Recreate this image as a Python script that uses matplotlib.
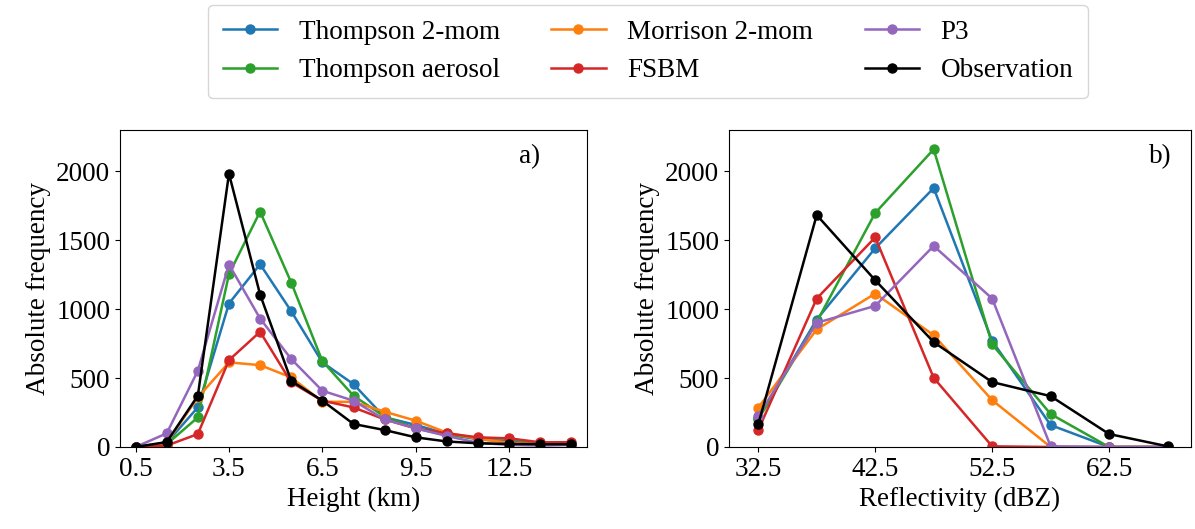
import numpy as np
import matplotlib
matplotlib.use('Agg')
import matplotlib.pyplot as plt

plt.rcParams['font.family'] = ['Liberation Serif', 'DejaVu Serif']
plt.rcParams['font.size'] = 19.5

# height bins (km) and reflectivity bins (dBZ)
height = [0.5, 1.5, 2.5, 3.5, 4.5, 5.5, 6.5, 7.5, 8.5, 9.5, 10.5, 11.5, 12.5, 13.5, 14.5]
refl = [32.5, 37.5, 42.5, 47.5, 52.5, 57.5, 62.5, 67.5]

labels = ['Thompson 2-mom', 'Thompson aerosol', 'Morrison 2-mom', 'FSBM', 'P3', 'Observation']
colors = ['tab:blue', 'tab:green', 'tab:orange', 'tab:red', 'tab:purple', 'black']

# frequency vs height
h_thompson = [0, 30, 288, 1041, 1326, 985, 614, 456, 216, 160, 95, 55, 40, 20, 15]
h_aerosol = [0, 20, 215, 1254, 1708, 1193, 623, 372, 220, 135, 85, 65, 60, 25, 20]
h_morrison = [0, 30, 360, 614, 594, 505, 328, 328, 256, 191, 104, 60, 30, 20, 30]
h_fsbm = [0, 10, 94, 630, 836, 469, 336, 287, 200, 135, 99, 70, 63, 34, 35]
h_p3 = [0, 99, 553, 1324, 932, 638, 408, 336, 200, 135, 80, 30, 15, 10, 15]
h_obs = [0, 36, 372, 1983, 1106, 480, 336, 167, 123, 70, 40, 27, 22, 20, 20]

# frequency vs reflectivity
r_thompson = [210, 925, 1442, 1879, 770, 159, 0, 0]
r_aerosol = [200, 908, 1698, 2160, 744, 239, 0, 0]
r_morrison = [285, 853, 1113, 811, 340, 0, 0, 0]
r_fsbm = [123, 1077, 1521, 502, 5, 0, 0, 0]
r_p3 = [225, 901, 1024, 1459, 1077, 5, 0, 0]
r_obs = [164, 1683, 1210, 761, 471, 369, 94, 5]

h_series = [h_thompson, h_aerosol, h_morrison, h_fsbm, h_p3, h_obs]
r_series = [r_thompson, r_aerosol, r_morrison, r_fsbm, r_p3, r_obs]

fig = plt.figure(figsize=(11.95, 5.29), dpi=100)
ax1 = fig.add_axes([120/1195, 82/529, 467/1195, 317/529])
ax2 = fig.add_axes([729/1195, 82/529, 462/1195, 317/529])

for y, c, lab in zip(h_series, colors, labels):
    ax1.plot(height, y, '-o', color=c, lw=1.8, ms=6.5, label=lab)
for y, c in zip(r_series, colors):
    ax2.plot(refl, y, '-o', color=c, lw=1.8, ms=6.5)

ax1.set_xlim(0, 15)
ax1.set_xticks([0.5, 3.5, 6.5, 9.5, 12.5])
ax1.set_xlabel('Height (km)')
ax1.text(0.878, 0.915, 'a)', transform=ax1.transAxes, ha='center', va='center')

ax2.set_xlim(30, 69.5)
ax2.set_xticks([32.5, 42.5, 52.5, 62.5])
ax2.set_xlabel('Reflectivity (dBZ)')
ax2.text(0.933, 0.915, 'b)', transform=ax2.transAxes, ha='center', va='center')

for ax in (ax1, ax2):
    ax.set_ylim(0, 2300)
    ax.set_yticks([0, 500, 1000, 1500, 2000])
    ax.set_ylabel('Absolute frequency')

fig.legend(loc='upper center', bbox_to_anchor=(648/1195, 1 - 5/529), ncol=3,
           borderaxespad=0, borderpad=0.55, handlelength=2.0, columnspacing=1.9)

fig.savefig('out.png', dpi=100)
